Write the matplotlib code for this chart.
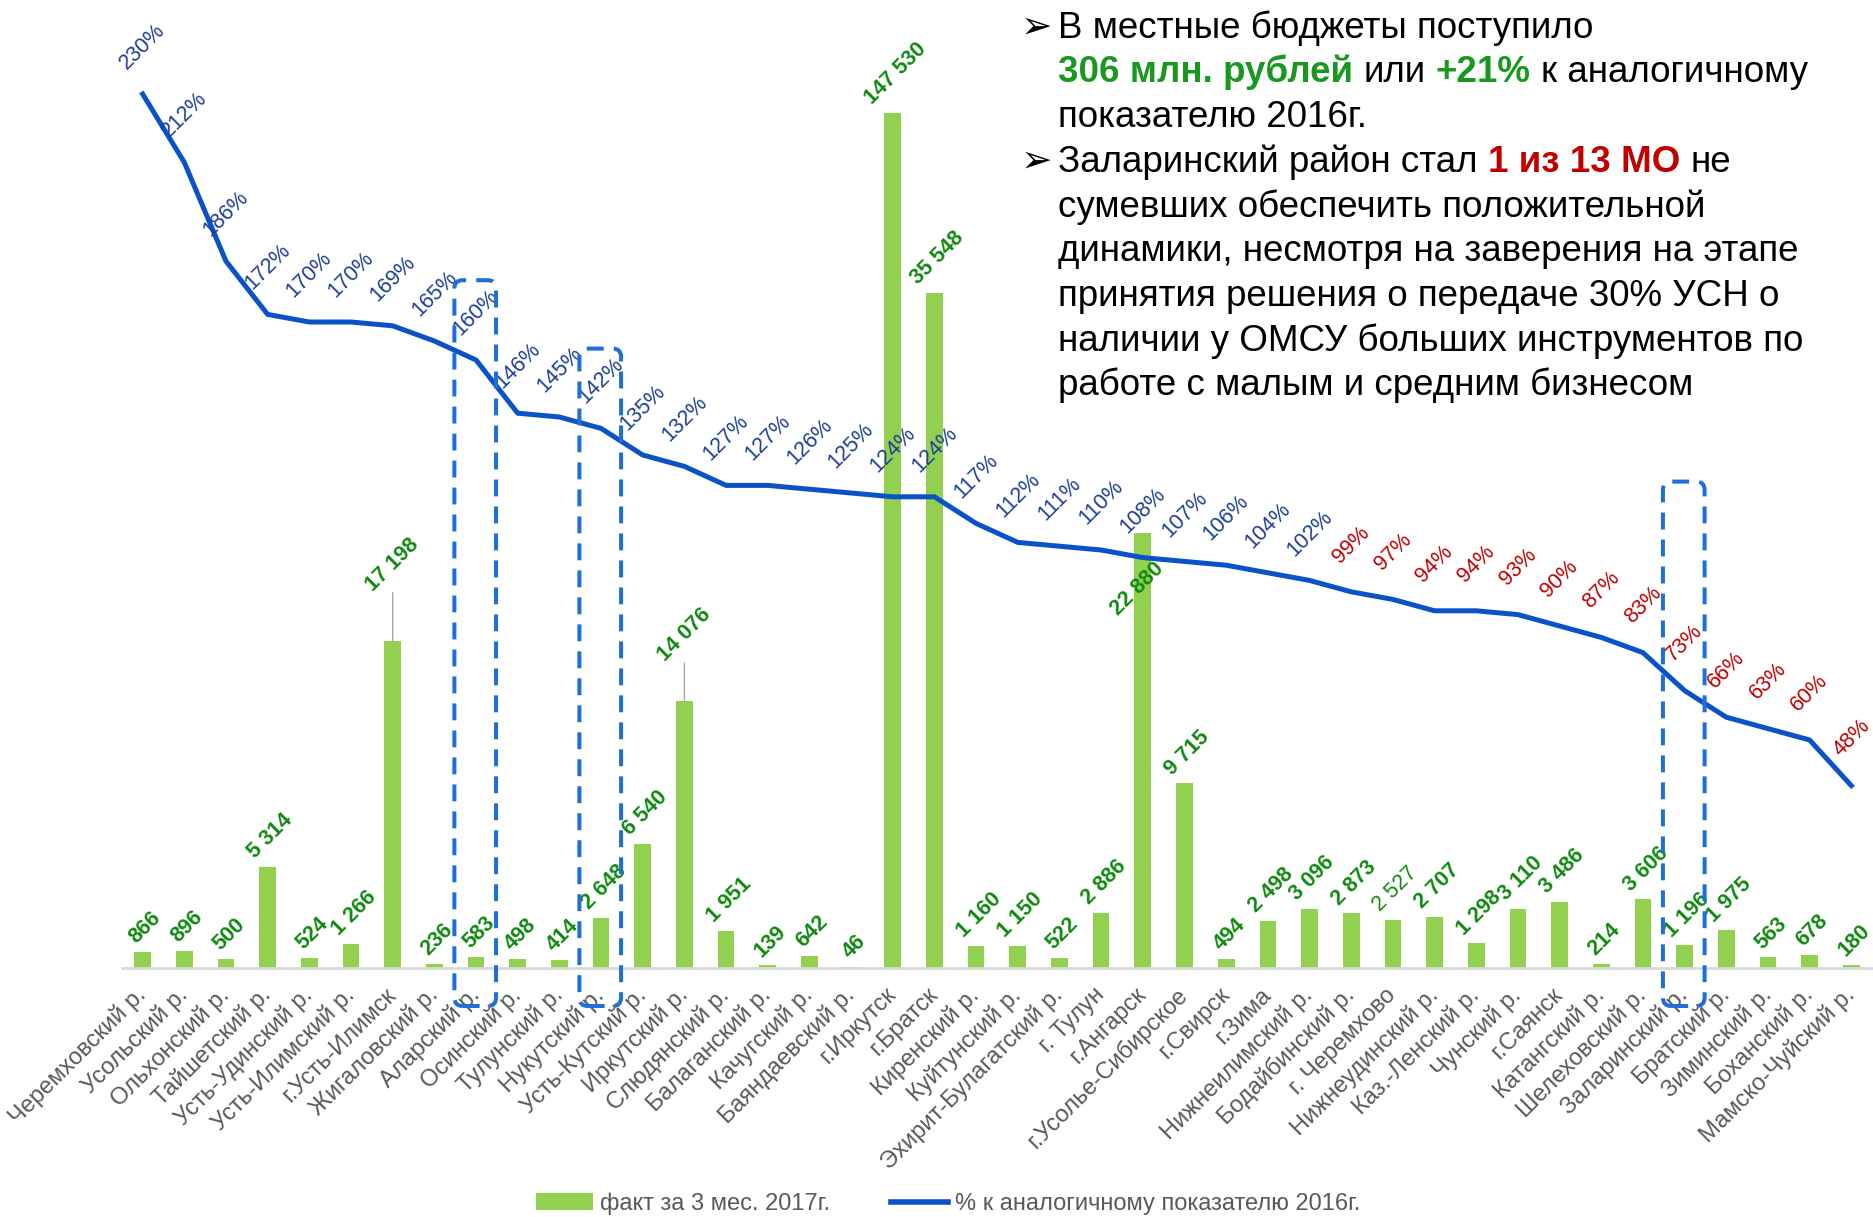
import numpy as np
import matplotlib.pyplot as plt
from matplotlib.patches import FancyBboxPatch, Patch
from matplotlib.lines import Line2D

plt.rcParams['font.family'] = ['Liberation Sans', 'DejaVu Sans']

regions = ['Черемховский р.', 'Усольский р.', 'Ольхонский р.', 'Тайшетский р.',
           'Усть-Удинский р.', 'Усть-Илимский р.', 'г.Усть-Илимск', 'Жигаловский р.',
           'Аларский р.', 'Осинский р.', 'Тулунский р.', 'Нукутский р.',
           'Усть-Кутский р.', 'Иркутский р.', 'Слюдянский р.', 'Балаганский р.',
           'Качугский р.', 'Баяндаевский р.', 'г.Иркутск', 'г.Братск',
           'Киренский р.', 'Куйтунский р.', 'Эхирит-Булагатский р.', 'г. Тулун',
           'г.Ангарск', 'г.Усолье-Сибирское', 'г.Свирск', 'г.Зима',
           'Нижнеилимский р.', 'Бодайбинский р.', 'г. Черемхово', 'Нижнеудинский р.',
           'Каз.-Ленский р.', 'Чунский р.', 'г.Саянск', 'Катангский р.',
           'Шелеховский р.', 'Заларинский р.', 'Братский р.', 'Зиминский р.',
           'Боханский р.', 'Мамско-Чуйский р.']
fact_2017 = [866, 896, 500, 5314, 524, 1266, 17198, 236, 583, 498, 414, 2648,
             6540, 14076, 1951, 139, 642, 46, 147530, 35548, 1160, 1150, 522, 2886,
             22880, 9715, 494, 2498, 3096, 2873, 2527, 2707, 1298, 3110, 3486, 214,
             3606, 1196, 1975, 563, 678, 180]
pct_2016 = [230, 212, 186, 172, 170, 170, 169, 165, 160, 146, 145, 142, 135, 132,
            127, 127, 126, 125, 124, 124, 117, 112, 111, 110, 108, 107, 106, 104,
            102, 99, 97, 94, 94, 93, 90, 87, 83, 73, 66, 63, 60, 48]
highlighted = ['Аларский р.', 'Нукутский р.', 'Заларинский р.']

legend_bar = 'факт за 3 мес. 2017г.'
legend_line = '% к аналогичному показателю 2016г.'

GREEN_T = '#18981e'
RED_T = '#c00000'
note_lines = [
    (True, [('В местные бюджеты поступило', 'black', 'normal')]),
    (False, [('306 млн. рублей', GREEN_T, 'bold'), ('или', 'black', 'normal'),
             ('+21%', GREEN_T, 'bold'), ('к аналогичному', 'black', 'normal')]),
    (False, [('показателю 2016г.', 'black', 'normal')]),
    (True, [('Заларинский район стал', 'black', 'normal'), ('1 из 13 МО', RED_T, 'bold'),
            ('не', 'black', 'normal')]),
    (False, [('сумевших обеспечить положительной', 'black', 'normal')]),
    (False, [('динамики, несмотря на заверения на этапе', 'black', 'normal')]),
    (False, [('принятия решения о передаче 30% УСН о', 'black', 'normal')]),
    (False, [('наличии у ОМСУ больших инструментов по', 'black', 'normal')]),
    (False, [('работе с малым и средним бизнесом', 'black', 'normal')]),
]

BAR_C = '#92d050'
LINE_C = '#0a52c8'
PCT_BLUE = '#1d3f98'
PCT_RED = '#c00000'
LBL_GREEN = '#118a11'
BOX_C = '#1e6fd9'

fig = plt.figure(figsize=(18.74, 12.17), dpi=100)
ax = fig.add_axes([0.065, 0.2046, 0.934, 0.7806])
ax2 = ax.twinx()

x = np.arange(len(regions))
bar_cap = 45000  # Irkutsk bar is cut off like in the original
heights = np.minimum(fact_2017, bar_cap)
ax.bar(x, heights, width=0.4, color=BAR_C, zorder=2)
ax.set_xlim(-0.5, len(regions) - 0.5)
ax.set_ylim(0, 50000)
ax2.set_ylim(0, 250)

ax2.plot(x, pct_2016, color=LINE_C, lw=3.6, solid_joinstyle='round', zorder=3)

for a in (ax, ax2):
    a.set_yticks([])
    for s in a.spines.values():
        s.set_visible(False)
ax.spines['bottom'].set_visible(True)
ax.spines['bottom'].set_color('#d9d9d9')
ax.spines['bottom'].set_linewidth(2)

ax.set_xticks(x)
ax.set_xticklabels(regions, rotation=45, ha='right', va='center',
                   rotation_mode='anchor', fontsize=17, color='#595959')
ax.tick_params(axis='x', length=0, pad=17)

fig.canvas.draw()
rend = fig.canvas.get_renderer()

# bar value labels
special = {'г.Усть-Илимск': (0, 55), 'Иркутский р.': (0, 47), 'г.Ангарск': (-4, -40)}
for i, (name, v, h) in enumerate(zip(regions, fact_2017, heights)):
    txt = f'{v:,}'.replace(',', ' ')
    weight = 'normal' if v == 2527 else 'bold'
    a = ax.annotate(txt, (i, h), xytext=(0, 0), textcoords='offset points',
                    rotation=45, ha='center', va='center', rotation_mode='anchor',
                    fontsize=15.5, fontweight=weight, color=LBL_GREEN, zorder=4)
    half = a.get_window_extent(rend).height / 2 * 72 / fig.dpi
    if name in special:
        a.xyann = special[name]
        if special[name][1] > 0:
            ax.annotate('', (i, h), xytext=(0, special[name][1] - half + 2),
                        textcoords='offset points',
                        arrowprops=dict(arrowstyle='-', color='#a6a6a6', lw=1,
                                        shrinkA=0, shrinkB=0))
    else:
        a.xyann = (2, half + 3)

# percent labels
for i, p in enumerate(pct_2016):
    ax2.annotate(f'{p}%', (i, p), xytext=(0, 34), textcoords='offset points',
                 rotation=45, ha='center', va='center', rotation_mode='anchor',
                 fontsize=15.5, color=PCT_BLUE if p >= 100 else PCT_RED, zorder=5)

# dashed boxes around highlighted regions
box_tops = {'Аларский р.': 181, 'Нукутский р.': 163, 'Заларинский р.': 128}
for name in highlighted:
    i = regions.index(name)
    top = box_tops[name]
    box = FancyBboxPatch((i - 0.52, -10), 1.0, top + 10,
                         boxstyle='round,pad=0,rounding_size=0.2', mutation_aspect=11,
                         fill=False, edgecolor=BOX_C, lw=2.9, linestyle=(0, (4.2, 2.5)),
                         clip_on=False, zorder=6)
    ax2.add_patch(box)

# legend
handles = [Patch(facecolor=BAR_C, edgecolor='none'),
           Line2D([0], [0], color=LINE_C, lw=4)]
fig.legend(handles, [legend_bar, legend_line], loc='center',
           bbox_to_anchor=(0.506, 0.011), ncol=2, frameon=False, fontsize=17,
           labelcolor='#595959', handlelength=2.4, handleheight=0.7,
           columnspacing=2.6, handletextpad=0.3)

# note block
def text_width(s, **kw):
    t = fig.text(0, 0, s, **kw)
    w = t.get_window_extent(rend).width
    t.remove()
    return w / fig.bbox.width

fs = 26.5
space = text_width('a a', fontsize=fs) - text_width('aa', fontsize=fs)
y0 = 0.969
step = 44.7 / 1217
for k, (bullet, runs) in enumerate(note_lines):
    y = y0 - k * step
    if bullet:
        fig.text(0.5445, y, '➢', fontsize=27, family='DejaVu Sans', va='baseline')
    xx = 0.5646
    for j, (s, c, w) in enumerate(runs):
        if j:
            xx += space
        fig.text(xx, y, s, fontsize=fs, color=c, fontweight=w, va='baseline')
        xx += text_width(s, fontsize=fs, fontweight=w)

fig.savefig('out.png', dpi=100)
